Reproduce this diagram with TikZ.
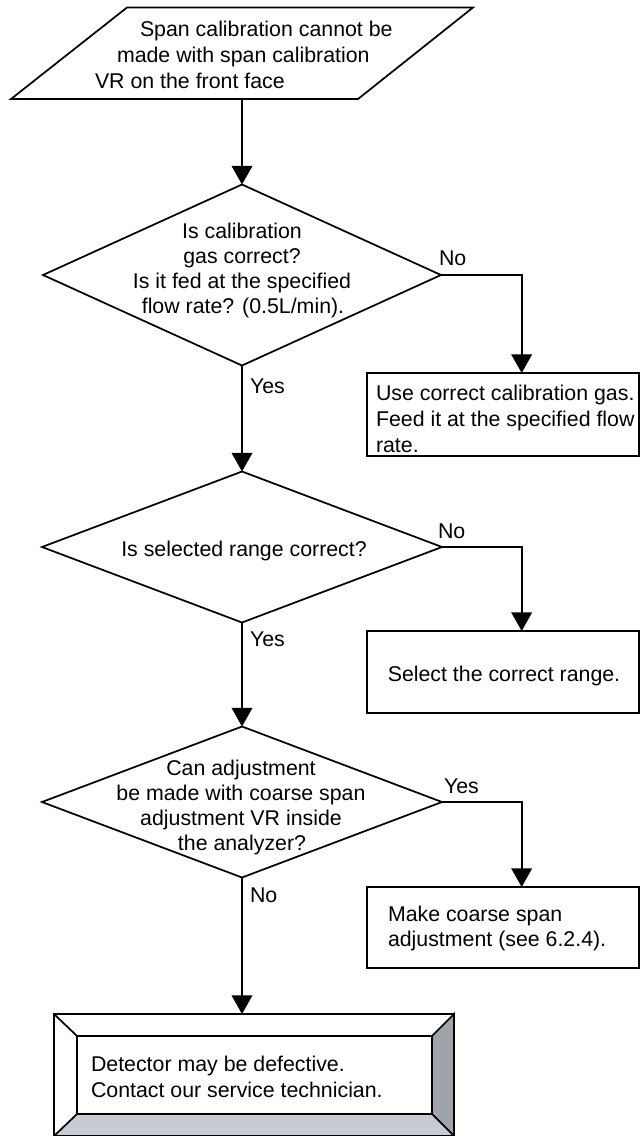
\documentclass[tikz,border=0pt]{standalone}
\usepackage{fontspec}
\setmainfont{Liberation Sans}
\usetikzlibrary{arrows.meta,shapes.geometric}
\definecolor{bevelR}{HTML}{9EA4AA}
\definecolor{bevelB}{HTML}{C8CCD2}
\begin{document}
\begin{tikzpicture}[x=0.75pt,y=-0.75pt,line width=1.3pt,
  txt/.style={font=\fontsize{16pt}{19pt}\selectfont,inner sep=0pt,outer sep=0pt},
  dia/.style={draw,shape=diamond,inner sep=0pt,outer sep=0pt},
  boxnode/.style={draw,rectangle,inner sep=0pt,outer sep=0pt,minimum width=204pt},
  arr/.style={-{Triangle[length=14pt,width=15.5pt]}}]
\useasboundingbox (0,0) rectangle (641,1136);

% start parallelogram
\draw (127,7.5) -- (473,7.5) -- (358,99) -- (11,99) -- cycle;
\coordinate (pb) at (242,99);
\node[txt,anchor=base west] (p1) at (140,36) {Span calibration cannot be};
\node[txt,anchor=base west] (p2) at (117,62) {made with span calibration};
\node[txt,anchor=base west] (p3) at (95,88) {VR on the front face};

% decisions
\node[dia,minimum width=298.5pt,minimum height=135.75pt] (d1) at (242,275) {};
\node[dia,minimum width=300pt,minimum height=113.25pt] (d2) at (242,547) {};
\node[dia,minimum width=300pt,minimum height=113.25pt] (d3) at (242,802) {};

\node[txt,anchor=base] (d1a) at (242,238) {Is calibration};
\node[txt,anchor=base] (d1b) at (242,263) {gas correct?};
\node[txt,anchor=base] (d1c) at (242,288) {Is it fed at the specified};
\node[txt,anchor=base] (d1d) at (243,313) {flow rate? (0.5L/min).};

\node[txt,anchor=base] (d2a) at (244,556) {Is selected range correct?};

\node[txt,anchor=base] (d3a) at (241,775) {Can adjustment};
\node[txt,anchor=base] (d3b) at (241,800) {be made with coarse span};
\node[txt,anchor=base] (d3c) at (241,825) {adjustment VR inside};
\node[txt,anchor=base] (d3d) at (242,850) {the analyzer?};

% action boxes
\node[boxnode,minimum height=62.25pt] (b1) at (503,414.5) {};
\node[boxnode,minimum height=61.5pt] (b2) at (503,672) {};
\node[boxnode,minimum height=60.75pt] (b3) at (503,927.5) {};

\node[txt,anchor=base west] (b1a) at (376,400) {Use correct calibration gas.};
\node[txt,anchor=base west] (b1b) at (376,426) {Feed it at the specified flow};
\node[txt,anchor=base west] (b1c) at (376,452) {rate.};
\node[txt,anchor=base] (b2a) at (504,681) {Select the correct range.};
\node[txt,anchor=base west] (b3a) at (388,921) {Make coarse span};
\node[txt,anchor=base west] (b3b) at (388,946) {adjustment (see 6.2.4).};

% terminal bevelled box
\node[draw,rectangle,inner sep=0pt,outer sep=0pt,minimum width=300pt,minimum height=91.5pt] (termo) at (254,1075) {};
\node[draw,rectangle,inner sep=0pt,outer sep=0pt,minimum width=266.25pt,minimum height=58.5pt] (term) at (254.5,1075) {};
\filldraw[fill=bevelR] (term.north east) -- (termo.north east) -- (termo.south east) -- (term.south east) -- cycle;
\filldraw[fill=bevelB] (term.south west) -- (term.south east) -- (termo.south east) -- (termo.south west) -- cycle;
\draw (termo.north west) -- (term.north west);
\coordinate (tt) at (242,1014);
\node[txt,anchor=base west] (t1) at (91,1071) {Detector may be defective.};
\node[txt,anchor=base west] (t2) at (91,1097) {Contact our service technician.};

% labels
\node[txt,anchor=base west] (l1) at (439,265) {No};
\node[txt,anchor=base west] (l2) at (250,393) {Yes};
\node[txt,anchor=base west] (l3) at (438,538) {No};
\node[txt,anchor=base west] (l4) at (250,646) {Yes};
\node[txt,anchor=base west] (l5) at (444,793) {Yes};
\node[txt,anchor=base west] (l6) at (250,902) {No};

% connectors
\draw[arr] (pb) -- (d1.north);
\draw[arr] (d1.east) -| ([xshift=14pt]b1.north);
\draw[arr] (d1.south) -- (d2.north);
\draw[arr] (d2.east) -| ([xshift=14pt]b2.north);
\draw[arr] (d2.south) -- (d3.north);
\draw[arr] (d3.east) -| ([xshift=14pt]b3.north);
\draw[arr] (d3.south) -- (tt);
\end{tikzpicture}
\end{document}
